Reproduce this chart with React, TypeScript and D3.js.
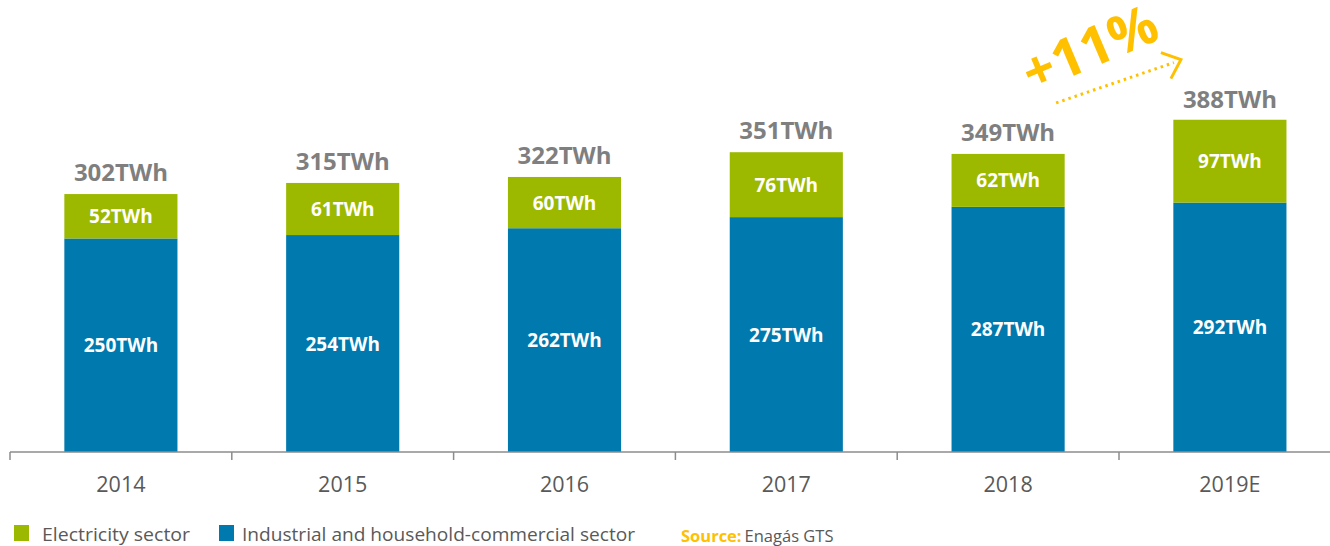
import { useMemo } from 'react';
import { scaleBand, scaleLinear } from 'd3';

const years = ['2014', '2015', '2016', '2017', '2018', '2019E'];
const industrial = [250, 254, 262, 275, 287, 292];
const electricity = [52, 61, 60, 76, 62, 97];
const totals = [302, 315, 322, 351, 349, 388];
const growthLabel = '+11%';

const GREEN = '#9cb900';
const BLUE = '#0079ae';
const FONT = '"Open Sans", "Noto Sans", sans-serif';

export default function App() {
  const width = 1330;
  const height = 546;
  const baseY = 452;

  const x = useMemo(() => scaleBand<string>().domain(years).range([10, 10 + 221.8 * 6]).paddingInner(0.49).paddingOuter(0.245), []);
  const band = useMemo(() => scaleBand<string>().domain(years).range([10, 10 + 221.8 * 6]), []);
  const y = useMemo(() => scaleLinear().domain([0, 388]).range([baseY, 120.6]), []);

  const last = years.length - 1;
  const prevCx = band(years[last - 1])! + band.bandwidth() / 2;
  const lastCx = band(years[last])! + band.bandwidth() / 2;

  // dotted growth arrow between the last two totals
  const ax1 = prevCx + 48;
  const ay1 = y(totals[last - 1]) - 51;
  const ax2 = lastCx - 56;
  const ay2 = y(totals[last]) - 58;
  const tipX = ax2 + 7;
  const tipY = ay2 - 3;

  return (
    <svg width={width} height={height} style={{ position: 'absolute', left: 0, top: 0 }}>
      {years.map((yr, i) => {
        const bx = x(yr)!;
        const bw = x.bandwidth();
        const cx = bx + bw / 2;
        const yInd = y(industrial[i]);
        const yTot = y(industrial[i] + electricity[i]);
        return (
          <g key={yr}>
            <rect x={bx} y={yInd} width={bw} height={baseY - yInd} fill={BLUE} />
            <rect x={bx} y={yTot} width={bw} height={yInd - yTot} fill={GREEN} />
            <text x={cx} y={(yInd + baseY) / 2 + 7} textAnchor="middle" fill="#fff" fontFamily={FONT} fontWeight={700} fontSize={19}>
              {industrial[i]}TWh
            </text>
            <text x={cx} y={(yInd + yTot) / 2 + 7} textAnchor="middle" fill="#fff" fontFamily={FONT} fontWeight={700} fontSize={19}>
              {electricity[i]}TWh
            </text>
            <text x={cx} y={y(totals[i]) - 13} textAnchor="middle" fill="#7f7f7f" fontFamily={FONT} fontWeight={700} fontSize={24}>
              {totals[i]}TWh
            </text>
            <text x={band(yr)! + band.bandwidth() / 2} y={492} textAnchor="middle" fill="#595959" fontFamily={FONT} fontSize={21.5}>
              {yr}
            </text>
          </g>
        );
      })}

      {/* axis */}
      <line x1={10} x2={width} y1={baseY} y2={baseY} stroke="#8c8c8c" strokeWidth={1.5} />
      {years.map((yr) => (
        <line key={yr} x1={band(yr)!} x2={band(yr)!} y1={baseY} y2={baseY + 8} stroke="#8c8c8c" strokeWidth={1.5} />
      ))}

      {/* growth annotation */}
      <line x1={ax1} y1={ay1} x2={ax2} y2={ay2} stroke="#ffc000" strokeWidth={3} strokeDasharray="2.5,4" />
      <polyline
        points={`${tipX - 20},${tipY - 7} ${tipX},${tipY} ${tipX - 10},${tipY + 19}`}
        fill="none" stroke="#ffc000" strokeWidth={3}
      />
      <text x={1091} y={67} textAnchor="middle" fill="#ffc000" fontFamily={FONT} fontWeight={700} fontSize={54}
        transform="rotate(-23 1091 51)">
        {growthLabel}
      </text>

      {/* legend */}
      <rect x={14} y={525} width={15} height={16} fill={GREEN} />
      <text x={42} y={541} fill="#595959" fontFamily={FONT} fontSize={18.5} textLength={148} lengthAdjust="spacingAndGlyphs">Electricity sector</text>
      <rect x={219} y={525} width={15} height={16} fill={BLUE} />
      <text x={242} y={541} fill="#595959" fontFamily={FONT} fontSize={18.5} textLength={393} lengthAdjust="spacingAndGlyphs">Industrial and household-commercial sector</text>
      <text x={681} y={542} fontFamily={FONT} fontSize={16.5}>
        <tspan fill="#ffc000" fontWeight={700}>Source:</tspan>
        <tspan fill="#595959" dx={3}>Enagás GTS</tspan>
      </text>
    </svg>
  );
}
